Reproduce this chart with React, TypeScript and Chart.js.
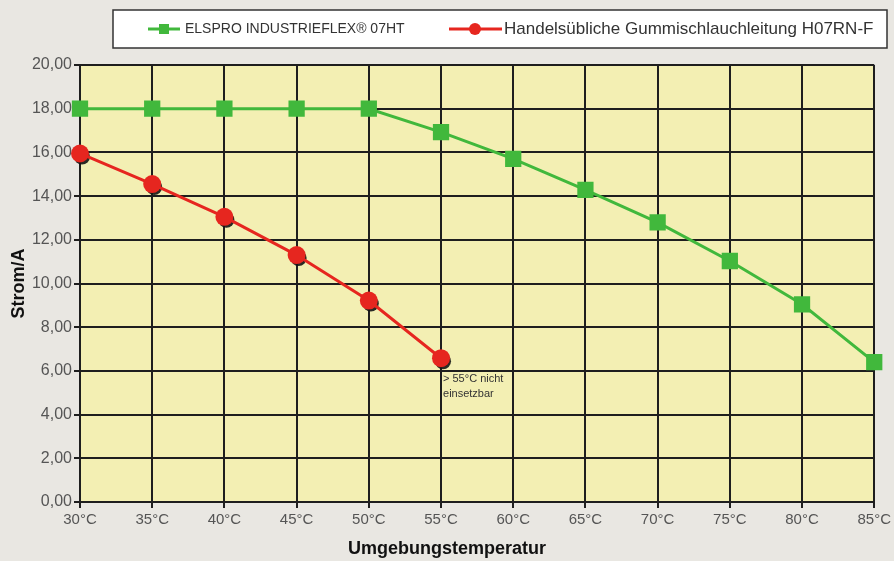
import React, { useEffect, useRef } from "react";
import { Chart, registerables } from "chart.js";

Chart.register(...registerables);

const categories = ["30°C", "35°C", "40°C", "45°C", "50°C", "55°C", "60°C", "65°C", "70°C", "75°C", "80°C", "85°C"];
const elsproValues = [18, 18, 18, 18, 18, 16.93, 15.7, 14.28, 12.8, 11.03, 9.05, 6.4];
const gummiValues = [15.95, 14.55, 13.05, 11.3, 9.22, 6.58, null, null, null, null, null, null];
const seriesNames = ["ELSPRO INDUSTRIEFLEX® 07HT", "Handelsübliche Gummischlauchleitung H07RN-F"];
const yTitle = "Strom/A";
const xTitle = "Umgebungstemperatur";
const noteLine1 = "> 55°C nicht";
const noteLine2 = "einsetzbar";

const GREEN = "#41b83c";
const RED = "#e6261f";
const FONT = "'Liberation Sans', Arial, sans-serif";

const decorPlugin = {
  id: "decor",
  beforeDraw(chart: any) {
    const { ctx, chartArea } = chart;
    ctx.save();
    ctx.fillStyle = "#e9e7e2";
    ctx.fillRect(0, 0, chart.width, chart.height);
    ctx.fillStyle = "#f3efb3";
    ctx.fillRect(chartArea.left, chartArea.top, chartArea.right - chartArea.left, chartArea.bottom - chartArea.top);
    ctx.restore();
  },
  beforeDatasetDraw(chart: any, args: any) {
    if (args.index === 1) {
      const ctx = chart.ctx;
      const meta = chart.getDatasetMeta(1);
      ctx.save();
      ctx.fillStyle = "rgba(20,20,20,0.9)";
      meta.data.forEach((pt: any) => {
        if (pt.skip || isNaN(pt.y)) return;
        ctx.beginPath();
        ctx.arc(pt.x + 2, pt.y + 3, 8, 0, Math.PI * 2);
        ctx.fill();
      });
      ctx.restore();
    }
  },
  afterDraw(chart: any) {
    const { ctx } = chart;
    const xs = chart.scales.x;
    const ys = chart.scales.y;
    ctx.save();
    // Legend box
    ctx.fillStyle = "#ffffff";
    ctx.fillRect(113, 10, 774, 38);
    ctx.strokeStyle = "#333";
    ctx.lineWidth = 1.5;
    ctx.strokeRect(113, 10, 774, 38);
    const cy = 29;
    // green item
    ctx.strokeStyle = GREEN;
    ctx.lineWidth = 3;
    ctx.beginPath();
    ctx.moveTo(148, cy);
    ctx.lineTo(180, cy);
    ctx.stroke();
    ctx.fillStyle = GREEN;
    ctx.fillRect(159, cy - 5, 10, 10);
    ctx.fillStyle = "#333";
    ctx.font = `14px ${FONT}`;
    ctx.textBaseline = "middle";
    ctx.textAlign = "left";
    ctx.fillText(seriesNames[0], 185, cy);
    // red item
    ctx.strokeStyle = RED;
    ctx.beginPath();
    ctx.moveTo(449, cy);
    ctx.lineTo(502, cy);
    ctx.stroke();
    ctx.fillStyle = RED;
    ctx.beginPath();
    ctx.arc(475, cy, 6, 0, Math.PI * 2);
    ctx.fill();
    ctx.fillStyle = "#333";
    ctx.font = `17px ${FONT}`;
    ctx.fillText(seriesNames[1], 504, cy);
    // note
    ctx.font = `11px ${FONT}`;
    ctx.fillStyle = "#333";
    const nx = xs.getPixelForValue(5) + 2;
    const ny = ys.getPixelForValue(6) + 8;
    ctx.fillText(noteLine1, nx, ny);
    ctx.fillText(noteLine2, nx, ny + 15);
    // axis titles
    ctx.font = `bold 18px ${FONT}`;
    ctx.fillStyle = "#111";
    ctx.textAlign = "center";
    ctx.fillText(xTitle, 447, 549);
    ctx.translate(19, (chart.chartArea.top + chart.chartArea.bottom) / 2);
    ctx.rotate(-Math.PI / 2);
    ctx.fillText(yTitle, 0, 0);
    ctx.restore();
  },
};

export default function App() {
  const ref = useRef<HTMLCanvasElement | null>(null);
  useEffect(() => {
    document.body.style.margin = "0";
    const canvas = ref.current!;
    const chart = new Chart(canvas, {
      type: "line",
      data: {
        labels: categories,
        datasets: [
          {
            label: seriesNames[0],
            data: elsproValues,
            borderColor: GREEN,
            backgroundColor: GREEN,
            borderWidth: 3,
            pointStyle: "rect",
            pointRadius: 11.5,
            pointHoverRadius: 11.5,
            pointBorderWidth: 0,
            tension: 0,
          },
          {
            label: seriesNames[1],
            data: gummiValues,
            borderColor: RED,
            backgroundColor: RED,
            borderWidth: 3,
            pointStyle: "circle",
            pointRadius: 9,
            pointHoverRadius: 9,
            pointBorderWidth: 0,
            tension: 0,
          },
        ],
      },
      options: {
        animation: false,
        responsive: false,
        maintainAspectRatio: false,
        layout: { padding: { top: 65, right: 19, left: 0, bottom: 0 } },
        plugins: { legend: { display: false }, tooltip: { enabled: false }, title: { display: false } },
        scales: {
          x: {
            offset: false,
            grid: { color: "#1e1e1e", lineWidth: 2, tickLength: 6, drawTicks: true },
            border: { color: "#1e1e1e", width: 2 },
            ticks: { color: "#555", font: { size: 15, family: FONT }, padding: 3, maxRotation: 0, autoSkip: false },
            afterFit: (s: any) => { s.height = 59; },
          },
          y: {
            min: 0,
            max: 20,
            grid: { color: "#1e1e1e", lineWidth: 2, tickLength: 6 },
            border: { color: "#1e1e1e", width: 2 },
            ticks: {
              stepSize: 2,
              color: "#555",
              font: { size: 16, family: FONT },
              padding: 2,
              callback: (v: any) => Number(v).toFixed(2).replace(".", ","),
            },
            afterFit: (s: any) => { s.width = 80; },
          },
        },
      },
      plugins: [decorPlugin],
    });
    return () => chart.destroy();
  }, []);
  return <canvas ref={ref} width={894} height={561} style={{ display: "block", width: 894, height: 561 }} />;
}
